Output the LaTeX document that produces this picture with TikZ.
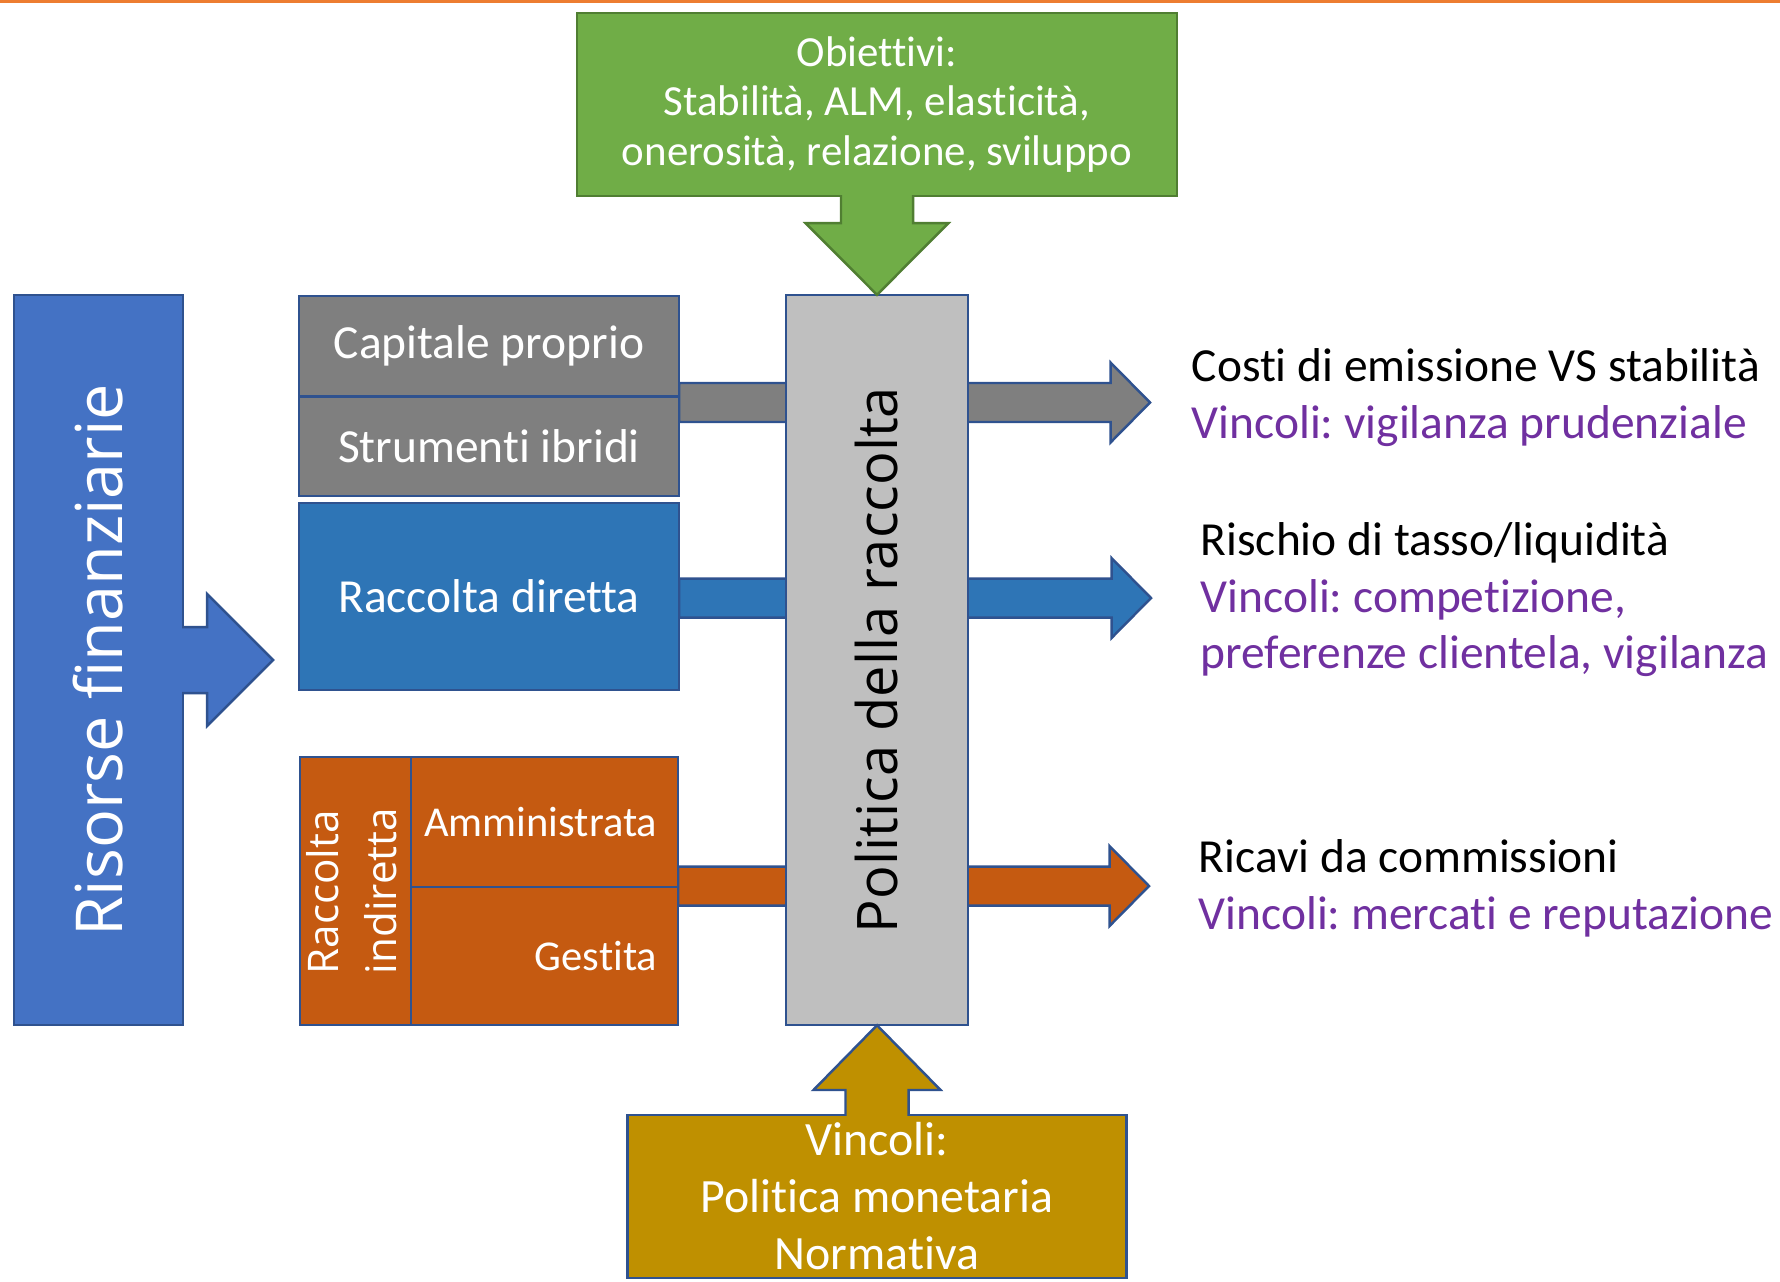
\documentclass[tikz,border=0pt]{standalone}
\usepackage{fontspec}
\setmainfont{Carlito}[Ligatures=NoCommon]
\newfontfamily\segoe{Open Sans}
\usepackage{xcolor}
\usepackage{tikz}
\usetikzlibrary{positioning,calc,backgrounds}
\frenchspacing
\definecolor{EdgeBlue}{HTML}{2F528F}
\definecolor{EdgeGreen}{HTML}{507E32}
\definecolor{FillGreen}{HTML}{70AD47}
\definecolor{FillGrey}{HTML}{7F7F7F}
\definecolor{FillSilver}{HTML}{BFBFBF}
\definecolor{FillBlue}{HTML}{2E75B6}
\definecolor{FillRoyal}{HTML}{4472C4}
\definecolor{FillRust}{HTML}{C55A11}
\definecolor{FillGold}{HTML}{BF9000}
\definecolor{LineOrange}{HTML}{ED7D31}
\definecolor{TextPurple}{HTML}{7030A0}
\tikzset{
  % Base box
  BX/.style={rectangle,draw=EdgeBlue,line width=0.7pt,inner sep=0pt,outer sep=0pt,
             text=white,align=center,font=\fontsize{13.5}{16}\selectfont},
  % Colour variants
  bGy/.style={BX,fill=FillGrey},
  bBl/.style={BX,fill=FillBlue},
  bRs/.style={BX,fill=FillRust},
  bRy/.style={BX,fill=FillRoyal},
  bSv/.style={BX,fill=FillSilver,text=black},
  bGd/.style={BX,fill=FillGold},
  bGn/.style={BX,fill=FillGreen,draw=EdgeGreen},
  % Right aligned cell
  cR/.style={bRs,minimum width=2.67cm,text width=2.25cm,align=right,
             font=\fontsize{12.1}{14}\selectfont},
  % Block arrows
  fat/.style={draw=EdgeBlue,line width=0.7pt},
  % Side notes
  TB/.style={anchor=base west,inner sep=0pt,font=\fontsize{13.5}{16}\selectfont},
  TP/.style={TB,text=TextPurple}
}
% horizontal block arrow: fill, start, tip
\newcommand{\fatarrow}[3]{%
  \draw[fat,fill=#1] ($(#2 |- #3)+(0,-19.5)$) -- ($(#3)+(-39.5,-19.5)$)
    -- ($(#3)+(-39.5,-40)$) -- (#3) -- ($(#3)+(-39.5,40)$)
    -- ($(#3)+(-39.5,19.5)$) -- ($(#2 |- #3)+(0,19.5)$) -- cycle;}

\begin{document}
\begin{tikzpicture}[x=0.01cm,y=-0.01cm]
  \useasboundingbox (0,0) rectangle (1780,1281);
  \draw[LineOrange,line width=0.03cm] (0,1.5) -- (1780,1.5);

  \node[bGn,minimum width=6cm,minimum height=1.83cm,font=\fontsize{12.2}{14.2}\selectfont] (obj) at (877,104.5)
       {Obiettivi:\\Stabilità, ALM, elasticità,\\onerosità, relazione, sviluppo};
  \node[bSv,minimum width=1.82cm,minimum height=7.3cm,font=\segoe\fontsize{15.9}{18}\selectfont] (pol) at (877,660)
       {\rotatebox{90}{Politica della raccolta}};
  \node[bRy,minimum width=1.69cm,minimum height=7.3cm,font=\segoe\fontsize{18.4}{22}\selectfont] (ris) at (98.5,660)
       {\rotatebox{90}{Risorse finanziarie}};

  \node[bGy,minimum width=3.8cm,minimum height=1cm]                    (cap) at (489,346) {Capitale proprio};
  \node[bGy,minimum width=3.8cm,minimum height=0.99cm,below=0.01cm of cap] (str) {Strumenti ibridi};
  \node[bBl,minimum width=3.8cm,minimum height=1.87cm,below=0.07cm of str] (dir) {Raccolta diretta};

  \node[bRs,minimum width=1.11cm,minimum height=2.68cm,font=\segoe\fontsize{12}{16.5}\selectfont] (ind) at (355.5,891)
       {\makebox[0pt]{\rotatebox{90}{\begin{tabular}{@{}l@{}}Raccolta\\indiretta\end{tabular}}}};
  \node[cR,minimum height=1.3cm,anchor=north west]  (adm) at (ind.north east) {\hfill\llap{Amministrata}};
  \node[cR,minimum height=1.38cm,anchor=south west] (ges) at (ind.south east) {Gestita};

  \node[bGd,minimum width=4.99cm,minimum height=1.63cm,font=\fontsize{13.6}{16.2}\selectfont] (vin) at (877,1196.5)
       {Vincoli:\\Politica monetaria\\Normativa};

  \node[TB] (cst) at (1191,381) {Costi di emissione VS stabilità};
  \node[TP] (cstv) at ($(cst.base west)+(0,57.5)$) {Vincoli: vigilanza prudenziale};
  \node[TB] (rsc) at (1200,555) {Rischio di tasso/liquidità};
  \node[TP] (rscv) at ($(rsc.base west)+(0,57)$) {Vincoli: competizione,};
  \node[TP] (rscw) at ($(rscv.base west)+(0,56)$) {preferenze clientela, vigilanza};
  \node[TB] (ric) at (1198,872) {Ricavi da commissioni};
  \node[TP] (ricv) at ($(ric.base west)+(0,57)$) {Vincoli: mercati e reputazione};

  \coordinate (tG) at (1150,402.5);
  \coordinate (tB) at (1151,598);
  \coordinate (tO) at (1149,886);
  \begin{scope}[on background layer]
    \fatarrow{FillGrey}{cap.east}{tG}
    \fatarrow{FillBlue}{dir.east}{tB}
    \fatarrow{FillRust}{adm.east}{tO}
  \end{scope}

  % callout arrows
  \draw[fill=FillGreen,draw=EdgeGreen,line width=0.7pt] ($(obj.south)+(-36,-1)$) -- ($(obj.south)+(-36,27)$)
    -- ($(obj.south)+(-71.5,27)$) -- (pol.north) -- ($(obj.south)+(71.5,27)$)
    -- ($(obj.south)+(36,27)$) -- ($(obj.south)+(36,-1)$);
  \draw[fat,fill=FillGold] ($(vin.north)+(-31.5,1)$) -- ($(vin.north)+(-31.5,-25)$)
    -- ($(vin.north)+(-63.5,-25)$) -- (pol.south) -- ($(vin.north)+(63.5,-25)$)
    -- ($(vin.north)+(31.5,-25)$) -- ($(vin.north)+(31.5,1)$);
  \draw[fat,fill=FillRoyal] ($(ris.east)+(-1,-33)$) -- ($(ris.east)+(24,-33)$)
    -- ($(ris.east)+(24,-66)$) -- ($(ris.east)+(90,0)$) -- ($(ris.east)+(24,66)$)
    -- ($(ris.east)+(24,33)$) -- ($(ris.east)+(-1,33)$);
\end{tikzpicture}
\end{document}
